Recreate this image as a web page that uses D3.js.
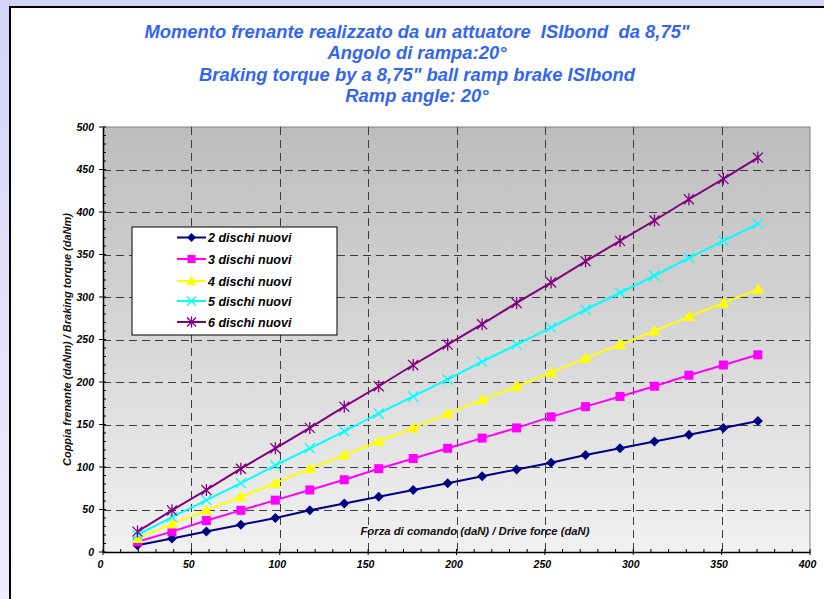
<!DOCTYPE html>
<html>
<head>
<meta charset="utf-8">
<script src="https://cdn.jsdelivr.net/npm/d3@7"></script>
<style>
html,body{margin:0;padding:0;background:#fff;}
svg{display:block;}
text{font-family:"Liberation Sans",Arial,sans-serif;font-weight:bold;font-style:italic;}
</style>
</head>
<body>
<script>
const titleLines = [
  "Momento frenante realizzato da un attuatore  ISIbond  da 8,75\"",
  "Angolo di rampa:20°",
  "Braking torque by a 8,75\" ball ramp brake ISIbond",
  "Ramp angle: 20°"
];
const xAxisTitle = "Forza di comando (daN) / Drive force (daN)";
const yAxisTitle = "Coppia frenante (daNm) / Braking torque (daNm)";
const xTicks = [0, 50, 100, 150, 200, 250, 300, 350, 400];
const yTicks = [0, 50, 100, 150, 200, 250, 300, 350, 400, 450, 500];
const forces = [19.5, 39, 58.5, 78, 97.5, 117, 136.5, 156, 175.5, 195, 214.5, 234, 253.5, 273, 292.5, 312, 331.5, 351, 370.5];
const seriesNames = ["2 dischi nuovi", "3 dischi nuovi", "4 dischi nuovi", "5 dischi nuovi", "6 dischi nuovi"];
const disc2 = [8, 16, 24, 32, 40, 49, 57, 65, 73, 81, 89, 97, 105, 114, 122, 130, 138, 146, 154];
const disc3 = [12, 24, 37, 49, 61, 73, 85, 98, 110, 122, 134, 146, 159, 171, 183, 195, 208, 220, 232];
const disc4 = [16, 33, 49, 65, 81, 98, 114, 130, 146, 163, 179, 195, 211, 228, 244, 260, 277, 293, 309];
const disc5 = [20, 41, 61, 81, 102, 122, 142, 163, 183, 203, 224, 244, 264, 285, 305, 325, 346, 366, 386];
const disc6 = [24, 49, 73, 98, 122, 146, 171, 195, 220, 244, 268, 293, 317, 342, 366, 390, 415, 439, 464];
const seriesValues = [disc2, disc3, disc4, disc5, disc6];
const seriesColors = ["#000080", "#ff00ff", "#ffff00", "#00ffff", "#800080"];
const seriesMarkers = ["diamond", "square", "triangle", "x", "star"];

const W = 824, H = 599;
const svg = d3.select("body").append("svg").attr("width", W).attr("height", H);
const defs = svg.append("defs");

const bgGrad = defs.append("linearGradient").attr("id","bgGrad").attr("x1",0).attr("y1",0).attr("x2",0).attr("y2",1);
bgGrad.append("stop").attr("offset","0%").attr("stop-color","#d4d4f8");
bgGrad.append("stop").attr("offset","100%").attr("stop-color","#eeeefc");
const plotGrad = defs.append("linearGradient").attr("id","plotGrad").attr("x1",0).attr("y1",0).attr("x2",0).attr("y2",1);
plotGrad.append("stop").attr("offset","0%").attr("stop-color","#bdbdbd");
plotGrad.append("stop").attr("offset","100%").attr("stop-color","#f1f1f1");

// outer background and frame
svg.append("rect").attr("width", W).attr("height", H).attr("fill", "url(#bgGrad)");
svg.append("rect").attr("x", 10).attr("y", 7).attr("width", W).attr("height", H)
  .attr("fill", "#fff").attr("stroke", "#000").attr("stroke-width", 2);

// title
const title = svg.append("g");
titleLines.forEach((t, i) => {
  title.append("text").attr("x", 417).attr("y", [38, 59, 81, 102][i])
    .attr("text-anchor", "middle").attr("fill", "#3366f0")
    .style("font-size", "18.4px").style("white-space", "pre").text(t);
});

const plot = {left: 103, right: 810, top: 127, bottom: 552};
const x = d3.scaleLinear().domain([0, 400]).range([plot.left, plot.right]);
const y = d3.scaleLinear().domain([0, 500]).range([plot.bottom, plot.top]);

// plot background
svg.append("rect").attr("x", plot.left).attr("y", plot.top)
  .attr("width", plot.right - plot.left).attr("height", plot.bottom - plot.top)
  .attr("fill", "url(#plotGrad)");
// plot border (top/right)
svg.append("path")
  .attr("d", `M${plot.left},${plot.top}H${plot.right}V${plot.bottom}`)
  .attr("fill", "none").attr("stroke", "#808080").attr("stroke-width", 1);

// gridlines
const grid = svg.append("g").attr("stroke", "#3c3c3c").attr("stroke-width", 1).attr("stroke-dasharray", "8,5");
yTicks.filter(v => v > 0 && v < 500).forEach(v => {
  grid.append("line").attr("x1", plot.left).attr("x2", plot.right)
    .attr("y1", Math.round(y(v)) + 0.5).attr("y2", Math.round(y(v)) + 0.5);
});
xTicks.filter(v => v > 0 && v < 400).forEach(v => {
  grid.append("line").attr("y1", plot.top).attr("y2", plot.bottom)
    .attr("x1", Math.round(x(v)) + 0.5).attr("x2", Math.round(x(v)) + 0.5);
});

// axes
const xAxis = d3.axisBottom(x).tickValues(xTicks).tickSize(0).tickPadding(9);
const gx = svg.append("g").attr("transform", `translate(0,${plot.bottom})`).call(xAxis);
gx.select(".domain").attr("stroke", "#000").attr("stroke-width", 1.5);
gx.selectAll("text").style("font-size", "10.5px").attr("fill", "#000").attr("dx", "-3");
const yAxis = d3.axisLeft(y).tickValues(yTicks).tickSize(0).tickPadding(9);
const gy = svg.append("g").attr("transform", `translate(${plot.left},0)`).call(yAxis);
gy.select(".domain").attr("stroke", "#000").attr("stroke-width", 1.5);
gy.selectAll("text").style("font-size", "10.5px").attr("fill", "#000");

// ticks: major crossing, minor inside
const tk = svg.append("g").attr("stroke", "#000").attr("stroke-width", 1);
d3.range(0, 401, 10).forEach(v => {
  const major = v % 50 === 0;
  tk.append("line").attr("x1", x(v)).attr("x2", x(v))
    .attr("y1", plot.bottom - 3).attr("y2", plot.bottom + (major ? 3 : 0));
});
d3.range(0, 501, 10).forEach(v => {
  const major = v % 50 === 0;
  tk.append("line").attr("y1", y(v)).attr("y2", y(v))
    .attr("x1", plot.left - (major ? 4 : 0)).attr("x2", plot.left + 3);
});

// axis titles
svg.append("text").attr("x", 475).attr("y", 535).attr("text-anchor", "middle")
  .style("font-size", "11.3px").attr("fill", "#111").text(xAxisTitle);
svg.append("text").attr("transform", `translate(71,${(plot.top + plot.bottom) / 2}) rotate(-90)`)
  .attr("text-anchor", "middle").style("font-size", "11px").attr("fill", "#111").text(yAxisTitle);

// marker drawer
function drawMarker(g, type, color, cx, cy, s) {
  const k = s || 1;
  if (type === "diamond") {
    g.append("path").attr("d", `M${cx},${cy-5*k}L${cx+5*k},${cy}L${cx},${cy+5*k}L${cx-5*k},${cy}Z`).attr("fill", color);
  } else if (type === "square") {
    g.append("rect").attr("x", cx-4.5*k).attr("y", cy-4.5*k).attr("width", 9*k).attr("height", 9*k).attr("fill", color);
  } else if (type === "triangle") {
    g.append("path").attr("d", `M${cx},${cy-6*k}L${cx+6*k},${cy+4.5*k}L${cx-6*k},${cy+4.5*k}Z`).attr("fill", color);
  } else if (type === "x") {
    g.append("path").attr("d", `M${cx-5*k},${cy-5*k}L${cx+5*k},${cy+5*k}M${cx+5*k},${cy-5*k}L${cx-5*k},${cy+5*k}`)
      .attr("stroke", color).attr("stroke-width", 1.3).attr("fill", "none");
  } else if (type === "star") {
    g.append("path").attr("d", `M${cx-5*k},${cy-5*k}L${cx+5*k},${cy+5*k}M${cx+5*k},${cy-5*k}L${cx-5*k},${cy+5*k}M${cx},${cy-6*k}L${cx},${cy+6*k}`)
      .attr("stroke", color).attr("stroke-width", 1.3).attr("fill", "none");
  }
}

// series
const line = d3.line().x(d => x(d[0])).y(d => y(d[1]));
const seriesG = svg.append("g");
seriesValues.forEach((vals, i) => {
  const pts = forces.map((f, j) => [f, vals[j]]);
  const g = seriesG.append("g");
  g.append("path").attr("d", line(pts)).attr("fill", "none")
    .attr("stroke", seriesColors[i]).attr("stroke-width", 2);
  pts.forEach(p => drawMarker(g, seriesMarkers[i], seriesColors[i], x(p[0]), y(p[1])));
});

// legend
const lg = svg.append("g");
lg.append("rect").attr("x", 132).attr("y", 227).attr("width", 205).attr("height", 108)
  .attr("fill", "#fff").attr("stroke", "#000").attr("stroke-width", 1);
const rowY = [237.5, 259, 281, 301, 322];
seriesNames.forEach((n, i) => {
  const ry = rowY[i];
  lg.append("line").attr("x1", 177).attr("x2", 206).attr("y1", ry).attr("y2", ry)
    .attr("stroke", seriesColors[i]).attr("stroke-width", 2);
  drawMarker(lg, seriesMarkers[i], seriesColors[i], 191.5, ry, 0.9);
  lg.append("text").attr("x", 208).attr("y", ry + 4.5).style("font-size", "12.5px")
    .attr("fill", "#000").text(n);
});
</script>
</body>
</html>
